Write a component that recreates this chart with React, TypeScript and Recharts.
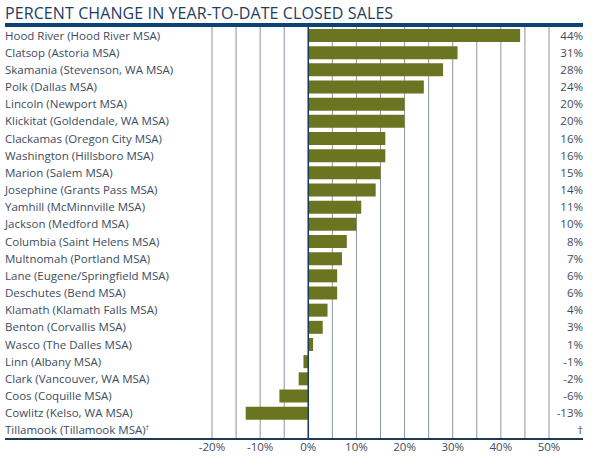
import React from "react";
import { Bar, BarChart, CartesianGrid, ReferenceLine, XAxis, YAxis } from "recharts";

const regions = [
  "Hood River (Hood River MSA)",
  "Clatsop (Astoria MSA)",
  "Skamania (Stevenson, WA MSA)",
  "Polk (Dallas MSA)",
  "Lincoln (Newport MSA)",
  "Klickitat (Goldendale, WA MSA)",
  "Clackamas (Oregon City MSA)",
  "Washington (Hillsboro MSA)",
  "Marion (Salem MSA)",
  "Josephine (Grants Pass MSA)",
  "Yamhill (McMinnville MSA)",
  "Jackson (Medford MSA)",
  "Columbia (Saint Helens MSA)",
  "Multnomah (Portland MSA)",
  "Lane (Eugene/Springfield MSA)",
  "Deschutes (Bend MSA)",
  "Klamath (Klamath Falls MSA)",
  "Benton (Corvallis MSA)",
  "Wasco (The Dalles MSA)",
  "Linn (Albany MSA)",
  "Clark (Vancouver, WA MSA)",
  "Coos (Coquille MSA)",
  "Cowlitz (Kelso, WA MSA)",
  "Tillamook (Tillamook MSA)",
];

// percent change, Tillamook has no figure (marked with a dagger)
const pctChange: (number | null)[] = [
  44, 31, 28, 24, 20, 20, 16, 16, 15, 14, 11, 10, 8, 7, 6, 6, 4, 3, 1, -1, -2, -6, -13, null,
];

const valueLabels = [
  "44%", "31%", "28%", "24%", "20%", "20%", "16%", "16%", "15%", "14%", "11%", "10%",
  "8%", "7%", "6%", "6%", "4%", "3%", "1%", "-1%", "-2%", "-6%", "-13%", "†",
];

const gridTicks = [-20, -15, -10, -5, 0, 5, 10, 15, 20, 25, 30, 35, 40, 45, 50];
const labelledTicks = [-20, -10, 0, 10, 20, 30, 40, 50];

const data = regions.map((name, i) => ({ name, value: pctChange[i] }));

const FONT = "'Open Sans', 'Noto Sans', sans-serif";
const NAVY = "#1d3d61";
const TEXT = "#3b4c60";
const LABEL_X = 5;
const VALUE_X = 583;

function RegionTick({ y, payload }: any) {
  const name: string = payload.value;
  const dagger = name.startsWith("Tillamook");
  return (
    <text x={LABEL_X} y={y} dy={4} textAnchor="start" fontSize={11.5} fill={TEXT} fontFamily={FONT}>
      {name}
      {dagger && (
        <tspan fontSize={7} dy={-4}>
          †
        </tspan>
      )}
    </text>
  );
}

function ValueTick({ y, payload }: any) {
  return (
    <text x={VALUE_X} y={y} dy={4} textAnchor="end" fontSize={11.5} fill={TEXT} fontFamily={FONT}>
      {valueLabels[payload.index]}
    </text>
  );
}

export default function App() {
  return (
    <div style={{ position: "absolute", left: 0, top: 0, width: 605, height: 465, background: "#fff" }}>
      <div
        style={{
          position: "absolute",
          left: 5,
          top: 2,
          fontFamily: FONT,
          fontSize: 16,
          color: NAVY,
          letterSpacing: 0.1,
          whiteSpace: "nowrap",
        }}
      >
        PERCENT CHANGE IN YEAR-TO-DATE CLOSED SALES
      </div>
      <div style={{ position: "absolute", left: 5, top: 23, width: 578, height: 4, background: "#0c4275" }} />
      <BarChart
        width={605}
        height={465}
        data={data}
        layout="vertical"
        barSize={13}
        margin={{ top: 27, right: 22, bottom: 0, left: 5 }}
      >
        <CartesianGrid horizontal={false} stroke="#8d949c" strokeWidth={1} />
        <XAxis
          type="number"
          domain={[-20, 50]}
          ticks={gridTicks}
          allowDataOverflow
          axisLine={false}
          tickLine={false}
          tickSize={0}
          tickMargin={4}
          height={26}
          interval={0}
          tick={{ fontSize: 11.5, fill: TEXT, fontFamily: FONT }}
          tickFormatter={(v: number) => (labelledTicks.includes(v) ? `${v}%` : "")}
        />
        <YAxis
          type="category"
          dataKey="name"
          width={207}
          axisLine={false}
          tickLine={false}
          interval={0}
          tick={<RegionTick />}
        />
        <YAxis
          yAxisId="r"
          orientation="right"
          type="category"
          dataKey="name"
          width={34}
          axisLine={false}
          tickLine={false}
          interval={0}
          tick={<ValueTick />}
        />
        <Bar dataKey="value" fill="#6b7420" isAnimationActive={false} />
        <ReferenceLine x={0} stroke="#1d3a57" strokeWidth={1.5} />
      </BarChart>
      <div style={{ position: "absolute", left: 5, top: 438, width: 578, height: 1.5, background: "#1d3a57" }} />
    </div>
  );
}
